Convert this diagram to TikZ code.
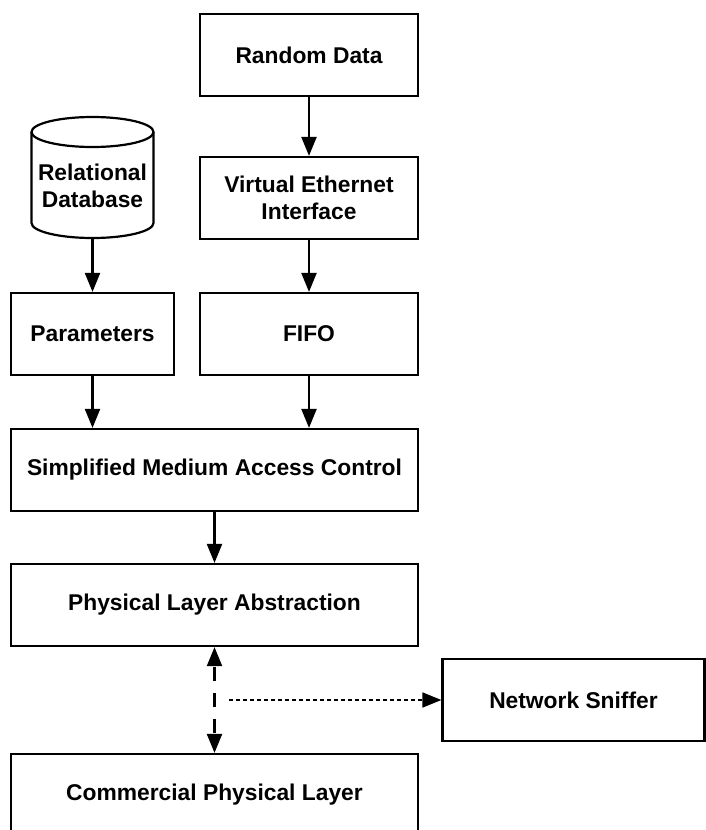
\documentclass[tikz,border=0pt]{standalone}
\usepackage{fontspec}
\setmainfont{Liberation Sans}
\usetikzlibrary{arrows.meta}
\begin{document}
\begin{tikzpicture}[x=1pt,y=-1pt,
  line width=2.2pt,
  font=\fontsize{22.8}{26.5}\selectfont\bfseries,
  block/.style={draw, rectangle, align=center, inner sep=0pt},
  narrow/.style={block, minimum width=163pt, minimum height=82pt},
  mid/.style={block, minimum width=218pt, minimum height=82pt},
  wide/.style={block, minimum width=407pt, minimum height=82pt},
  flow/.style={-{Triangle[length=19pt,width=15pt]}},
  both/.style={{Triangle[length=19pt,width=15pt]}-{Triangle[length=19pt,width=15pt]}},
  tap/.style={line width=1.6pt, dash pattern=on 4pt off 3pt, -{Triangle[length=19pt,width=15pt]}}]
  \useasboundingbox (0,0) rectangle (705,830);

  % data source chain
  \node[mid] (rand) at (309,55) {Random Data};
  \node[mid] (veth) at (309,198) {Virtual Ethernet\\Interface};
  \node[mid] (fifo) at (309,334) {FIFO};

  % database cylinder
  \draw (31.5,132) -- (31.5,223) arc[start angle=180, end angle=360, x radius=61, y radius=-15]
        -- (153.5,132);
  \draw (92.5,132) ellipse[x radius=61, y radius=15];
  \node[align=center] (db) at (92.5,186) {Relational\\Database};
  \coordinate (dbbot) at (92.5,238);

  \node[narrow] (par) at (92.5,334) {Parameters};

  % MAC and PHY stack
  \node[wide] (mac) at (214.5,470) {Simplified Medium Access Control};
  \node[wide] (pla) at (214.5,605) {Physical Layer Abstraction};
  \node[wide] (cpl) at (214.5,795) {Commercial Physical Layer};
  \node[block, minimum width=262pt, minimum height=82pt] (snif) at (573.5,700) {Network Sniffer};

  \draw[flow] (rand) -- (veth);
  \draw[flow] (veth) -- (fifo);
  \draw[flow] (dbbot) -- (par);
  \draw[flow] (par.south) -- (par.south |- mac.north);
  \draw[flow] (fifo.south) -- (fifo.south |- mac.north);
  \draw[flow] (mac) -- (pla);
  \draw[both, dash pattern=on 14pt off 12pt, dash phase=-1pt] (pla) -- (cpl);
  \coordinate (tapstart) at (229,700);
  \draw[tap] (tapstart) -- (snif.west);
\end{tikzpicture}
\end{document}
